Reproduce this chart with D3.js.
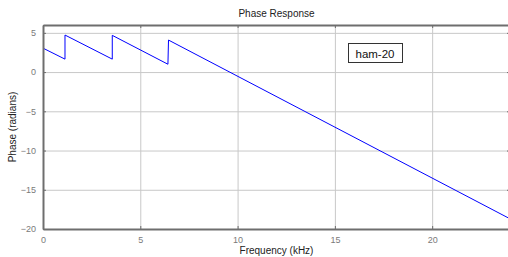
<!DOCTYPE html>
<html>
<head>
<meta charset="utf-8">
<script src="https://cdn.jsdelivr.net/npm/d3@7"></script>
<style>
	body { margin: 0; background: #fff; }
	svg { display: block; font-family: "Liberation Sans", Arial, sans-serif; }
</style>
</head>
<body>
<div id="chart"></div>
<script>
// Phase response breakpoints (kHz, radians)
var freqKHz = [0, 1.13, 1.13, 3.56, 3.56, 6.42, 6.45, 24];
var phaseRad = [3.05, 1.65, 4.72, 1.65, 4.68, 1.0, 4.08, -18.7];
var xTicks = [0, 5, 10, 15, 20];
var yTicks = [5, 0, -5, -10, -15, -20];
var legendLabel = "ham-20";

var W = 508, H = 257;
var margin = {left: 43, top: 25, right: -2, bottom: 28};
var width = W - margin.left - margin.right;
var height = H - margin.top - margin.bottom;

var svg = d3.select("#chart").append("svg")
	.attr("width", W)
	.attr("height", H);

svg.append("rect").attr("width", W).attr("height", H).attr("fill", "#fff");

var g = svg.append("g")
	.attr("transform", "translate(" + margin.left + "," + margin.top + ")");

var xScale = d3.scaleLinear().domain([0, 24]).range([0, width]);
var yScale = d3.scaleLinear().domain([-20, 6]).range([height, 0]);

// Grid lines:
g.append("g")
	.attr("class", "grid")
	.call(d3.axisBottom(xScale).tickValues(xTicks).tickSize(height).tickFormat(""))
	.call(function(s){ s.select(".domain").remove(); })
	.selectAll("line").attr("stroke", "#c8c8c8");

g.append("g")
	.attr("class", "grid")
	.call(d3.axisLeft(yScale).tickValues(yTicks).tickSize(-width).tickFormat(""))
	.call(function(s){ s.select(".domain").remove(); })
	.selectAll("line").attr("stroke", "#c8c8c8");

// The phase line:
var line = d3.line()
	.x(function(d, i){ return xScale(freqKHz[i]); })
	.y(function(d, i){ return yScale(phaseRad[i]); });

g.append("path")
	.datum(freqKHz)
	.attr("d", line)
	.attr("fill", "none")
	.attr("stroke", "#0000ff")
	.attr("stroke-width", 1);

// Axes (inward ticks):
function styleAxis(s){
	s.select(".domain").attr("stroke", "#6e6e6e").attr("stroke-width", 2);
	s.selectAll(".tick line").attr("stroke", "#6e6e6e");
	s.selectAll(".tick text").attr("fill", "#7a7a7a").attr("font-size", "9px")
		.attr("font-family", "Liberation Sans, Arial, sans-serif");
}

g.append("g")
	.attr("transform", "translate(0," + height + ")")
	.call(d3.axisBottom(xScale).tickValues(xTicks).tickSizeInner(-3).tickSizeOuter(0).tickPadding(8))
	.call(styleAxis);

g.append("g")
	.call(d3.axisLeft(yScale).tickValues(yTicks).tickSizeInner(-3).tickSizeOuter(0).tickPadding(7))
	.call(styleAxis);

g.append("g")
	.call(d3.axisTop(xScale).tickValues(xTicks).tickSizeInner(-3).tickSizeOuter(0).tickFormat(""))
	.call(styleAxis);

g.append("g")
	.attr("transform", "translate(" + width + ",0)")
	.call(d3.axisRight(yScale).tickValues(yTicks).tickSizeInner(-3).tickSizeOuter(0).tickFormat(""))
	.call(styleAxis);

// Title and axis labels:
svg.append("text")
	.attr("x", margin.left + width / 2)
	.attr("y", 17)
	.attr("text-anchor", "middle")
	.attr("font-size", "10px")
	.attr("fill", "#222")
	.text("Phase Response");

svg.append("text")
	.attr("x", margin.left + width / 2)
	.attr("y", 254)
	.attr("text-anchor", "middle")
	.attr("font-size", "10px")
	.attr("fill", "#222")
	.text("Frequency (kHz)");

svg.append("text")
	.attr("transform", "translate(16," + (margin.top + height / 2) + ") rotate(-90)")
	.attr("text-anchor", "middle")
	.attr("font-size", "10px")
	.attr("fill", "#222")
	.text("Phase (radians)");

// Legend box:
var legend = svg.append("g").attr("transform", "translate(348,43)");
legend.append("rect")
	.attr("x", 0.5).attr("y", 0.5)
	.attr("width", 54).attr("height", 19)
	.attr("fill", "#fff")
	.attr("stroke", "#333");
legend.append("text")
	.attr("x", 27).attr("y", 15)
	.attr("text-anchor", "middle")
	.attr("font-size", "11.5px")
	.attr("fill", "#111")
	.text(legendLabel);
</script>
</body>
</html>
